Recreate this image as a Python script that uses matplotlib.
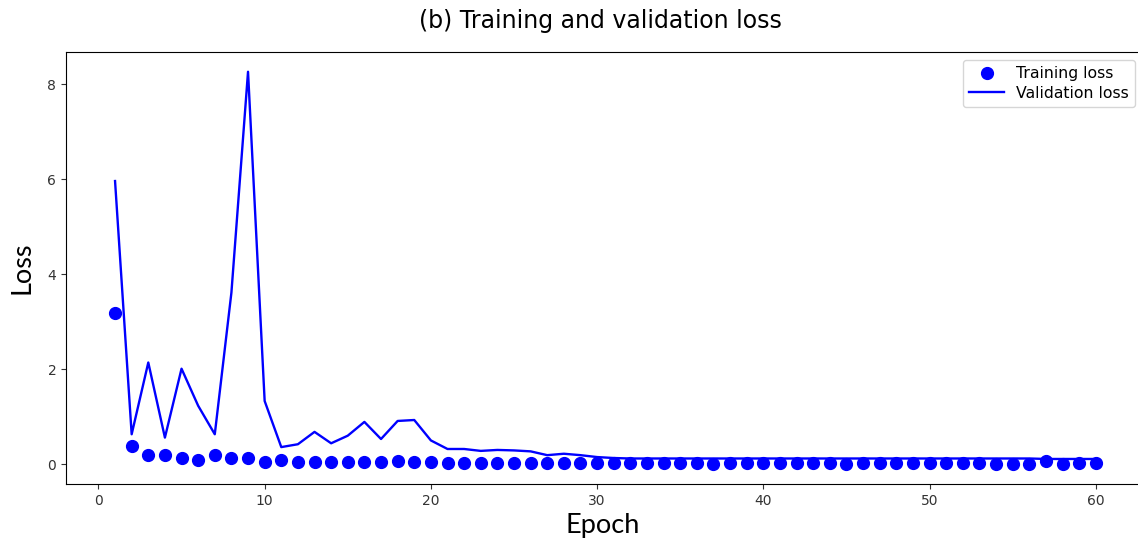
import matplotlib.pyplot as plt

epochs = list(range(1, 61))

train_loss = [3.19, 0.39, 0.19, 0.19, 0.12, 0.09, 0.19, 0.12, 0.12, 0.05,
              0.08, 0.05, 0.05, 0.05, 0.05, 0.05, 0.05, 0.06, 0.05, 0.05,
              0.03, 0.03, 0.03, 0.03, 0.03, 0.03, 0.03, 0.03, 0.03, 0.03,
              0.03, 0.03, 0.03, 0.03, 0.03, 0.03, 0.00, 0.03, 0.03, 0.03,
              0.03, 0.03, 0.03, 0.03, 0.00, 0.03, 0.03, 0.03, 0.03, 0.03,
              0.03, 0.03, 0.03, 0.00, 0.00, 0.00, 0.07, 0.00, 0.03, 0.03]

val_loss = [5.96, 0.63, 2.14, 0.56, 2.01, 1.23, 0.63, 3.61, 8.26, 1.33,
            0.36, 0.42, 0.68, 0.44, 0.60, 0.89, 0.53, 0.91, 0.93, 0.50,
            0.32, 0.32, 0.28, 0.30, 0.29, 0.27, 0.19, 0.22, 0.19, 0.15,
            0.13, 0.12, 0.12, 0.12, 0.12, 0.12, 0.12, 0.12, 0.12, 0.12,
            0.12, 0.12, 0.12, 0.12, 0.12, 0.12, 0.12, 0.12, 0.12, 0.12,
            0.12, 0.12, 0.12, 0.12, 0.12, 0.12, 0.11, 0.11, 0.11, 0.11]

fig = plt.figure(figsize=(11.38, 5.43), dpi=100)
# the right edge of the axes runs off the canvas, as in the cropped original
ax = fig.add_axes([0.058, 0.109, 0.96, 0.795])

ax.plot(epochs, train_loss, 'bo', markersize=8.5, label='Training loss')
ax.plot(epochs, val_loss, 'b', linewidth=1.7, label='Validation loss')

ax.set_xlim(-1.95, 63.77)
ax.set_xticks([0, 10, 20, 30, 40, 50, 60])
ax.set_yticks([0, 2, 4, 6, 8])
ax.tick_params(labelsize=10, colors='#333333')

fig.text(0.528, 0.962, '(b) Training and validation loss', ha='center', va='center',
         fontsize=17, family=['Liberation Sans Narrow', 'DejaVu Sans'])
ax.set_xlabel('Epoch', fontsize=19.5, family=['Lato', 'DejaVu Sans'], labelpad=4)
ax.xaxis.label.set_x(0.4915)
ax.set_ylabel('Loss', fontsize=19.5, family=['Lato', 'DejaVu Sans'], labelpad=9)

ax.legend(loc='upper left', bbox_to_anchor=(963 / 1138, 1 - 60 / 543),
          bbox_transform=fig.transFigure, borderaxespad=0, fontsize=11.3,
          handlelength=2.2, borderpad=0.4, labelspacing=0.3)

fig.savefig('out.png', dpi=100)
